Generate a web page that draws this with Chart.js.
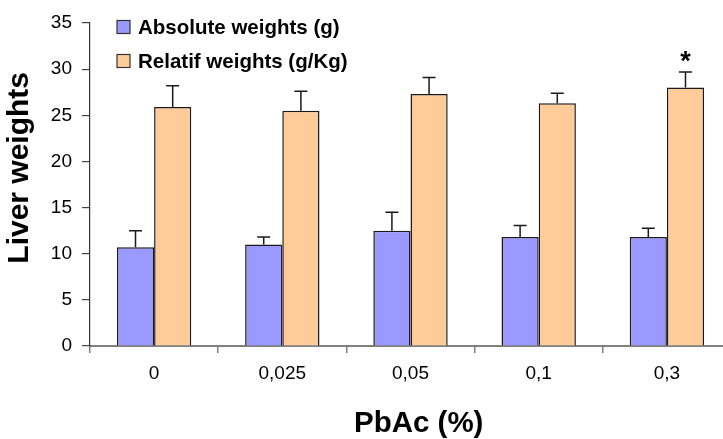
<!DOCTYPE html>
<html>
<head>
<meta charset="utf-8">
<script src="https://cdn.jsdelivr.net/npm/chart.js@4"></script>
<style>
  html, body { margin: 0; padding: 0; background: #fff; overflow: hidden; }
  #wrap { width: 760px; height: 439px; }
</style>
</head>
<body>
<div id="wrap"><canvas id="chart" width="760" height="439"></canvas></div>
<script>
const doses = ['0', '0,025', '0,05', '0,1', '0,3']

const absoluteWeights = [10.7, 11.0, 12.5, 11.8, 11.8]
const absoluteErrors = [1.8, 0.8, 2.0, 1.25, 0.95]

const relativeWeights = [25.9, 25.5, 27.3, 26.3, 28.0]
const relativeErrors = [2.3, 2.1, 1.8, 1.1, 1.7]
const relativeMarks = ['', '', '', '', '*']

const yTicks = [0, 5, 10, 15, 20, 25, 30, 35]

const errors = [absoluteErrors, relativeErrors]
const marks = [null, relativeMarks]

const FONT = '"Liberation Sans", Arial, sans-serif'

// error bars, the star and the legend box in the top left corner
const extras = {
    id: 'extras',
    afterDatasetsDraw(chart) {
        const ctx = chart.ctx;
        const y = chart.scales.y;
        ctx.save();
        chart.data.datasets.forEach((ds, i) => {
            const meta = chart.getDatasetMeta(i);
            meta.data.forEach((bar, j) => {
                const top = y.getPixelForValue(ds.data[j] + errors[i][j]);
                ctx.strokeStyle = '#1a1a1a';
                ctx.lineWidth = 1.5;
                ctx.beginPath();
                ctx.moveTo(bar.x, bar.y);
                ctx.lineTo(bar.x, top);
                ctx.moveTo(bar.x - 6.5, top);
                ctx.lineTo(bar.x + 6.5, top);
                ctx.stroke();
                if (marks[i] && marks[i][j]) {
                    ctx.fillStyle = '#000';
                    ctx.font = 'bold 27px ' + FONT;
                    ctx.textAlign = 'center';
                    ctx.textBaseline = 'alphabetic';
                    ctx.fillText(marks[i][j], bar.x, top - 2);
                }
            });
        });

        // legend
        const left = chart.chartArea.left + 27;
        ctx.font = 'bold 20.5px ' + FONT;
        ctx.textAlign = 'left';
        ctx.textBaseline = 'middle';
        chart.data.datasets.forEach((ds, i) => {
            const cy = 27 + i * 34;
            ctx.fillStyle = ds.backgroundColor;
            ctx.fillRect(left, cy - 6.5, 13, 13);
            ctx.strokeStyle = '#333';
            ctx.lineWidth = 1.2;
            ctx.strokeRect(left, cy - 6.5, 13, 13);
            ctx.fillStyle = '#000';
            ctx.fillText(ds.label, left + 21, cy + 1);
        });
        ctx.restore();
    }
}

new Chart(document.getElementById('chart'), {
    type: 'bar',
    data: {
        labels: doses,
        datasets: [
            {
                label: 'Absolute weights (g)',
                data: absoluteWeights,
                backgroundColor: '#9999ff',
                borderColor: '#1a1a1a',
                borderWidth: 1.5
            },
            {
                label: 'Relatif weights (g/Kg)',
                data: relativeWeights,
                backgroundColor: '#ffcc99',
                borderColor: '#1a1a1a',
                borderWidth: 1.5
            }
        ]
    },
    plugins: [extras],
    options: {
        responsive: false,
        animation: false,
        layout: { padding: { top: 23, right: 29, left: 0, bottom: 0 } },
        datasets: {
            bar: { barPercentage: 1, categoryPercentage: 0.58 }
        },
        plugins: {
            legend: { display: false },
            tooltip: { enabled: false }
        },
        scales: {
            x: {
                offset: true,
                afterFit: (s) => { s.height = 93; },
                grid: {
                    offset: true,
                    drawOnChartArea: false,
                    tickLength: 7,
                    color: '#808080',
                    lineWidth: 1.5
                },
                border: { color: '#808080', width: 2 },
                ticks: {
                    color: '#000',
                    padding: 9,
                    font: { family: FONT, size: 19 }
                },
                title: {
                    display: true,
                    // two leading spaces nudge the title to the right
                    text: '  PbAc (%)',
                    color: '#000',
                    padding: { top: 0, bottom: 0 },
                    font: { family: FONT, size: 29.5, weight: 'bold', lineHeight: 1 }
                }
            },
            y: {
                min: 0,
                max: 35,
                afterFit: (s) => { s.width = 90; },
                afterBuildTicks: (s) => { s.ticks = yTicks.map(v => ({ value: v })); },
                grid: {
                    drawOnChartArea: false,
                    tickLength: 8,
                    color: '#444',
                    lineWidth: 1.2
                },
                border: { color: '#333', width: 1.2 },
                ticks: {
                    color: '#000',
                    padding: 10,
                    font: { family: FONT, size: 19 }
                },
                title: {
                    display: true,
                    // leading spaces push the words up, as in the original
                    text: '    Liver weights',
                    color: '#000',
                    padding: { top: 5, bottom: 0 },
                    font: { family: FONT, size: 30, weight: 'bold', lineHeight: 1 }
                }
            }
        }
    }
})
</script>
</body>
</html>
